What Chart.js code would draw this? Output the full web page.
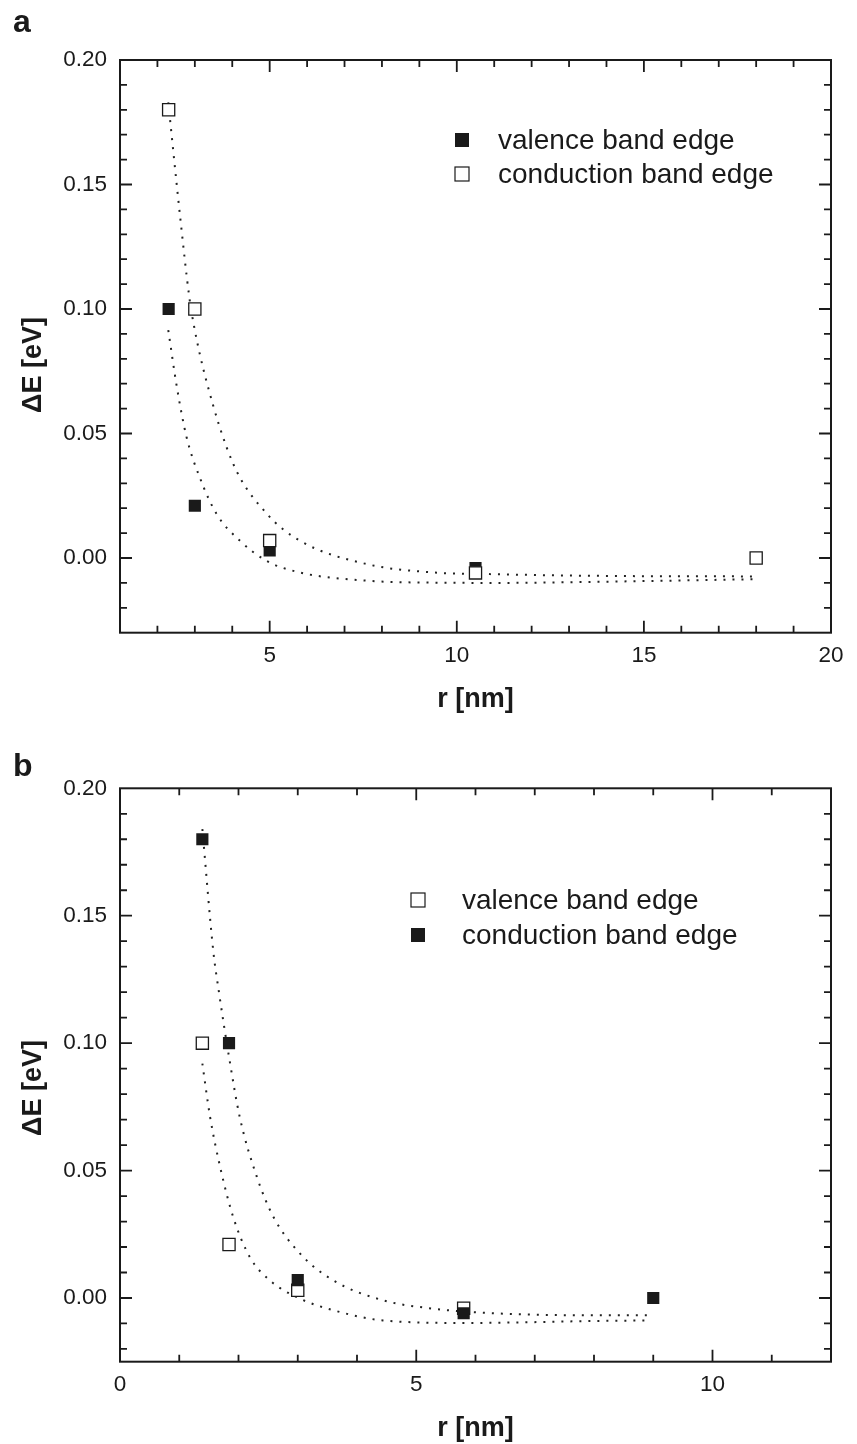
<!DOCTYPE html>
<html>
<head>
<meta charset="utf-8">
<script src="https://cdn.jsdelivr.net/npm/chart.js@4.4.0/dist/chart.umd.min.js"></script>
<style>
  html, body { margin: 0; padding: 0; background: #fff; }
  .panel { position: relative; width: 857px; height: 722px; }
  canvas { display: block; }
</style>
</head>
<body>
<div class="panel"><canvas id="chartA" width="857" height="722"></canvas></div>
<div class="panel"><canvas id="chartB" width="857" height="722"></canvas></div>
<script>
// ---- panel a ----
const rValA = [2.3, 3.0, 5.0, 10.5];
const valenceA = [0.100, 0.021, 0.003, -0.004];
const rCondA = [2.3, 3.0, 5.0, 10.5, 18.0];
const conductionA = [0.180, 0.100, 0.007, -0.006, 0.000];
// dotted fit curves
const fitCondRA = [2.29, 2.6, 2.85, 2.98, 3.31, 4.02, 4.91, 5.80, 7.58, 9.36, 10.97, 14.0, 18.0];
const fitCondA = [0.183, 0.138, 0.105, 0.093, 0.071, 0.038, 0.018, 0.007, -0.0024, -0.0058, -0.0065, -0.0072, -0.0074];
const fitValRA = [2.29, 2.52, 2.78, 3.13, 3.58, 4.20, 4.91, 5.80, 7.58, 9.36, 11.14, 14.0, 18.0];
const fitValA = [0.0915, 0.0686, 0.0485, 0.0324, 0.0177, 0.0070, -0.0011, -0.0058, -0.0091, -0.0099, -0.0100, -0.0095, -0.0085];
const xTicksA = [5, 10, 15, 20];

// ---- panel b ----
const rValB = [1.39, 1.84, 3.0, 5.8];
const valenceB = [0.100, 0.021, 0.003, -0.004];
const rCondB = [1.39, 1.84, 3.0, 5.8, 9.0];
const conductionB = [0.180, 0.100, 0.007, -0.006, 0.000];
const fitCondRB = [1.39, 1.575, 1.67, 1.84, 2.02, 2.31, 2.59, 3.04, 3.60, 4.44, 5.29, 6.41, 8.10, 8.94];
const fitCondB = [0.184, 0.136, 0.120, 0.0946, 0.0711, 0.0475, 0.0318, 0.0174, 0.0069, -0.0009, -0.0042, -0.0061, -0.0068, -0.0068];
const fitValRB = [1.39, 1.52, 1.69, 1.91, 2.19, 2.53, 3.04, 3.60, 4.44, 5.85, 8.10, 8.92];
const fitValB = [0.092, 0.0711, 0.0514, 0.0318, 0.0161, 0.0069, -0.0003, -0.0048, -0.0088, -0.0098, -0.0090, -0.0088];
const xTicksB = [0, 5, 10];

const yTicks = [0.00, 0.05, 0.10, 0.15, 0.20];

const INK = '#1a1a1a';
const FONT = '"Liberation Sans", Arial, Helvetica, sans-serif';
Chart.defaults.font.family = FONT;
Chart.defaults.color = INK;

function pts(xs, ys) {
    return xs.map((x, i) => ({ x: x, y: ys[i] }));
}

function markerSet(label, xs, ys, filled, order) {
    return {
        label: label,
        data: pts(xs, ys),
        showLine: false,
        pointStyle: 'rect',
        pointRadius: 8.6,
        pointHoverRadius: 8.6,
        pointBackgroundColor: filled ? INK : '#ffffff',
        pointBorderColor: INK,
        pointBorderWidth: filled ? 0 : 1.3,
        filled: filled,
        order: order
    };
}

function fitSet(xs, ys) {
    return {
        label: 'fit',
        data: pts(xs, ys),
        showLine: true,
        pointRadius: 0,
        pointHoverRadius: 0,
        borderColor: '#222',
        borderWidth: 2,
        borderDash: [2, 7],
        cubicInterpolationMode: 'monotone',
        fill: false,
        order: 5
    };
}

// box, inward ticks on all four sides, axis titles, panel letter and legend
const frameTicks = {
    id: 'frameTicks',
    afterDraw(chart, args, o) {
        const ctx = chart.ctx;
        const a = chart.chartArea;
        const xs = chart.scales.x, ys = chart.scales.y;
        ctx.save();
        ctx.strokeStyle = INK;
        ctx.lineWidth = 2;
        ctx.strokeRect(a.left, a.top, a.right - a.left, a.bottom - a.top);

        ctx.lineWidth = 1.8;
        ctx.beginPath();
        const eps = 1e-6;
        for (let v = Math.ceil(xs.min / o.xStep) * o.xStep; v <= xs.max + eps; v += o.xStep) {
            const px = xs.getPixelForValue(v);
            if (px <= a.left + 1 || px >= a.right - 1) continue;
            const major = Math.abs(v / o.xMajor - Math.round(v / o.xMajor)) < 1e-6;
            const len = major ? 12 : 7;
            ctx.moveTo(px, a.bottom); ctx.lineTo(px, a.bottom - len);
            ctx.moveTo(px, a.top); ctx.lineTo(px, a.top + len);
        }
        for (let k = Math.ceil(ys.min / o.yStep - eps); k * o.yStep <= ys.max + eps; k++) {
            const v = k * o.yStep;
            const py = ys.getPixelForValue(v);
            if (py <= a.top + 1 || py >= a.bottom - 1) continue;
            const major = k % Math.round(o.yMajor / o.yStep) === 0;
            const len = major ? 12 : 7;
            ctx.moveTo(a.left, py); ctx.lineTo(a.left + len, py);
            ctx.moveTo(a.right, py); ctx.lineTo(a.right - len, py);
        }
        ctx.stroke();

        ctx.fillStyle = INK;
        // panel letter
        ctx.font = 'bold 32px ' + FONT;
        ctx.textAlign = 'left';
        ctx.textBaseline = 'alphabetic';
        ctx.fillText(o.panel, 13, o.panelY);

        // axis titles
        ctx.font = 'bold 27px ' + FONT;
        ctx.textAlign = 'center';
        ctx.fillText('r [nm]', (a.left + a.right) / 2, o.xTitleY);
        ctx.save();
        ctx.translate(o.yTitleX, o.yTitleCY);
        ctx.rotate(-Math.PI / 2);
        ctx.fillText('\u0394E [eV]', 0, 0);
        ctx.restore();

        // legend
        ctx.font = '28px ' + FONT;
        ctx.textAlign = 'left';
        ctx.textBaseline = 'middle';
        const items = chart.data.datasets.filter(d => d.label !== 'fit');
        items.sort((p, q) => p.label.localeCompare(q.label) * -1);
        items.forEach((d, i) => {
            const cy = o.legendY[i];
            const s = 14;
            if (d.filled) {
                ctx.fillRect(o.legendX - s / 2, cy - s / 2, s, s);
            } else {
                ctx.fillStyle = '#fff';
                ctx.fillRect(o.legendX - s / 2, cy - s / 2, s, s);
                ctx.fillStyle = INK;
                ctx.lineWidth = 1.2;
                ctx.strokeRect(o.legendX - s / 2, cy - s / 2, s, s);
            }
            ctx.fillText(d.label, o.legendTextX, cy + 1);
        });
        ctx.restore();
    }
};

function makeChart(id, cfg) {
    return new Chart(document.getElementById(id), {
        type: 'scatter',
        data: { datasets: cfg.datasets },
        options: {
            responsive: false,
            animation: false,
            events: [],
            layout: { padding: { left: 0, right: 26, top: cfg.top, bottom: 0 } },
            plugins: {
                legend: { display: false },
                tooltip: { enabled: false },
                frameTicks: cfg.frame
            },
            scales: {
                x: {
                    type: 'linear',
                    min: cfg.xMin,
                    max: cfg.xMax,
                    afterBuildTicks: s => { s.ticks = cfg.xTicks.map(v => ({ value: v })); },
                    afterFit: s => { s.height = cfg.xAxisH; },
                    ticks: { font: { size: 22.5 }, padding: 10, autoSkip: false, maxRotation: 0, callback: v => String(v) },
                    grid: { display: false, drawTicks: false },
                    border: { display: false }
                },
                y: {
                    type: 'linear',
                    min: cfg.yMin,
                    max: 0.20,
                    afterBuildTicks: s => { s.ticks = yTicks.map(v => ({ value: v })); },
                    afterFit: s => { s.width = 120; },
                    ticks: { font: { size: 22.5 }, padding: 13, autoSkip: false, callback: v => v.toFixed(2) },
                    grid: { display: false, drawTicks: false },
                    border: { display: false }
                }
            }
        },
        plugins: [frameTicks]
    });
}

makeChart('chartA', {
    datasets: [
        markerSet('conduction band edge', rCondA, conductionA, false, 0),
        markerSet('valence band edge', rValA, valenceA, true, 1),
        fitSet(fitCondRA, fitCondA),
        fitSet(fitValRA, fitValA)
    ],
    xMin: 1, xMax: 20, xTicks: xTicksA, yMin: -0.03,
    top: 60, xAxisH: 89.3,
    frame: {
        xStep: 1, xMajor: 5, yStep: 0.01, yMajor: 0.05,
        panel: 'a', panelY: 32,
        xTitleY: 707, yTitleX: 41, yTitleCY: 365,
        legendX: 462, legendY: [140, 174], legendTextX: 498
    }
});

makeChart('chartB', {
    datasets: [
        markerSet('conduction band edge', rCondB, conductionB, true, 0),
        markerSet('valence band edge', rValB, valenceB, false, 1),
        fitSet(fitCondRB, fitCondB),
        fitSet(fitValRB, fitValB)
    ],
    xMin: 0, xMax: 12, xTicks: xTicksB, yMin: -0.025,
    top: 66.3, xAxisH: 82.3,
    frame: {
        xStep: 1, xMajor: 5, yStep: 0.01, yMajor: 0.05,
        panel: 'b', panelY: 54,
        xTitleY: 714, yTitleX: 41, yTitleCY: 366,
        legendX: 418, legendY: [178, 213], legendTextX: 462
    }
});
</script>
</body>
</html>
